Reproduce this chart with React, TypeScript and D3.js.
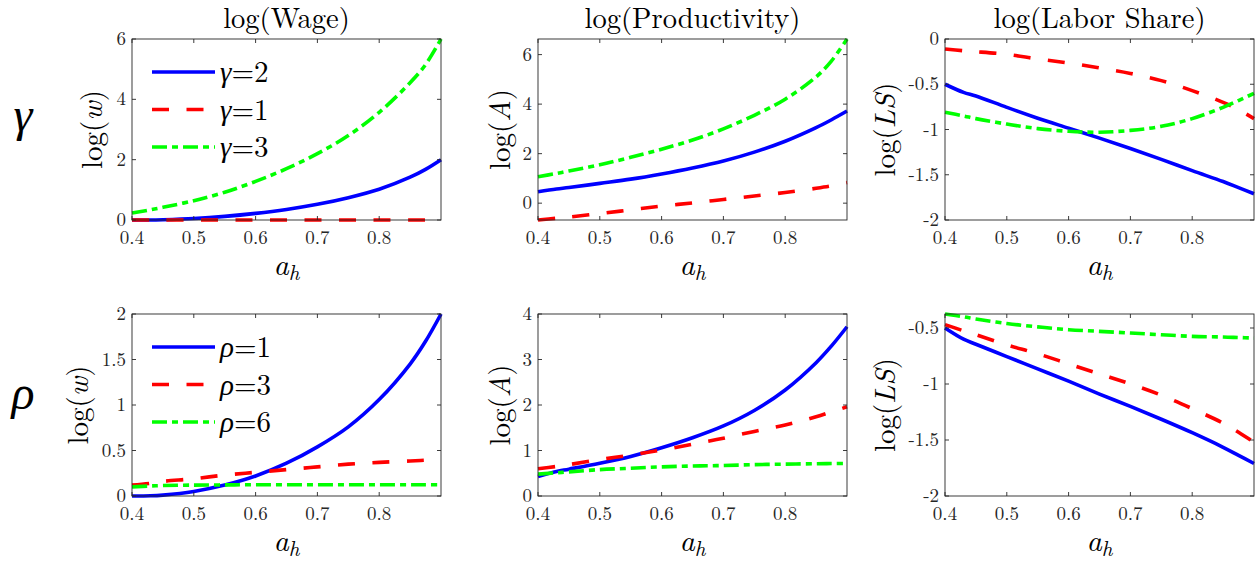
import React from 'react';
import * as d3 from 'd3';

// shared x grid (a_h)
const xs = [0.4, 0.43, 0.45, 0.5, 0.55, 0.6, 0.65, 0.7, 0.75, 0.8, 0.85, 0.875, 0.9];

// row 1: gamma
const wageG2 = [0, 0.0, 0.01, 0.05, 0.12, 0.22, 0.35, 0.52, 0.74, 1.02, 1.42, 1.68, 2.0];
const wageG1 = [0, 0, 0, 0, 0, 0, 0, 0, 0, 0, 0, 0, 0];
const wageG3 = [0.23, 0.34, 0.42, 0.64, 0.92, 1.28, 1.7, 2.2, 2.8, 3.57, 4.55, 5.15, 6.0];

const prodG2 = [0.46, 0.57, 0.63, 0.8, 0.97, 1.18, 1.42, 1.7, 2.06, 2.5, 3.05, 3.37, 3.72];
const prodG1 = [-0.68, -0.61, -0.56, -0.42, -0.27, -0.12, 0.01, 0.15, 0.29, 0.43, 0.6, 0.7, 0.83];
const prodG3 = [1.07, 1.2, 1.3, 1.55, 1.85, 2.18, 2.55, 3.0, 3.55, 4.2, 5.1, 5.75, 6.63];

const lsG2 = [-0.5, -0.59, -0.63, -0.755, -0.875, -0.985, -1.095, -1.21, -1.33, -1.455, -1.575, -1.642, -1.71];
const lsG1 = [-0.11, -0.13, -0.14, -0.17, -0.22, -0.265, -0.32, -0.38, -0.46, -0.57, -0.7, -0.78, -0.88];
const lsG3 = [-0.81, -0.85, -0.88, -0.94, -0.99, -1.02, -1.03, -1.01, -0.965, -0.88, -0.755, -0.68, -0.6];

// row 2: rho
const wageR1 = [0, 0.002, 0.01, 0.05, 0.12, 0.22, 0.36, 0.54, 0.76, 1.06, 1.45, 1.7, 2.0];
const wageR3 = [0.12, 0.14, 0.16, 0.19, 0.23, 0.26, 0.29, 0.32, 0.35, 0.37, 0.385, 0.393, 0.4];
const wageR6 = [0.1, 0.11, 0.115, 0.12, 0.122, 0.124, 0.124, 0.124, 0.124, 0.124, 0.124, 0.124, 0.124];

const prodR1 = [0.43, 0.54, 0.59, 0.72, 0.87, 1.06, 1.28, 1.54, 1.88, 2.33, 2.93, 3.3, 3.72];
const prodR3 = [0.6, 0.65, 0.69, 0.8, 0.9, 1.01, 1.14, 1.27, 1.42, 1.56, 1.74, 1.85, 1.96];
const prodR6 = [0.48, 0.51, 0.53, 0.58, 0.61, 0.64, 0.66, 0.67, 0.69, 0.7, 0.71, 0.713, 0.715];

const lsR1 = [-0.5, -0.6, -0.645, -0.755, -0.865, -0.975, -1.09, -1.2, -1.315, -1.435, -1.565, -1.637, -1.71];
const lsR3 = [-0.47, -0.525, -0.56, -0.65, -0.73, -0.82, -0.91, -1.0, -1.1, -1.22, -1.35, -1.43, -1.52];
const lsR6 = [-0.375, -0.4, -0.42, -0.46, -0.49, -0.515, -0.53, -0.545, -0.56, -0.575, -0.58, -0.585, -0.59];

const xTicks = [0.4, 0.5, 0.6, 0.7, 0.8];
const titles = ['log(Wage)', 'log(Productivity)', 'log(Labor Share)'];
const gammaLegend = ['2', '1', '3'];
const rhoLegend = ['1', '3', '6'];

const FONT = '"Latin Modern Roman", "Liberation Serif", serif';
const tf = { fontFamily: FONT };
const greek = { fontFamily: '"Liberation Serif", serif' };
const AX = '#262626';
const BLUE = '#0000ff', RED = '#ff0000', GREEN = '#00ff00';
const styles = [
  { color: BLUE, dash: null },
  { color: RED, dash: '17,17.5' },
  { color: GREEN, dash: '15,5,6,5' },
];

const colLeft = [132, 538, 945];
const plotW = 309;
const rowBox = [{ top: 39, bottom: 220 }, { top: 314, bottom: 496 }];

const panels = [
  { row: 0, col: 0, yDomain: [0, 6], yTicks: [0, 2, 4, 6], ylab: 'w', labOff: 39, series: [wageG2, wageG1, wageG3], legend: { sym: 'γ', vals: gammaLegend } },
  { row: 0, col: 1, yDomain: [-0.68, 6.63], yTicks: [0, 2, 4, 6], ylab: 'A', labOff: 37, series: [prodG2, prodG1, prodG3] },
  { row: 0, col: 2, yDomain: [-2, 0], yTicks: [-2, -1.5, -1, -0.5, 0], ylab: 'LS', labOff: 59, series: [lsG2, lsG1, lsG3] },
  { row: 1, col: 0, yDomain: [0, 2], yTicks: [0, 0.5, 1, 1.5, 2], ylab: 'w', labOff: 53, series: [wageR1, wageR3, wageR6], legend: { sym: 'ρ', vals: rhoLegend } },
  { row: 1, col: 1, yDomain: [0, 4], yTicks: [0, 1, 2, 3, 4], ylab: 'A', labOff: 37, series: [prodR1, prodR3, prodR6] },
  { row: 1, col: 2, yDomain: [-2, -0.375], yTicks: [-2, -1.5, -1, -0.5], ylab: 'LS', labOff: 59, series: [lsR1, lsR3, lsR6] },
];

function Panel({ p }: { p: any }) {
  const left = colLeft[p.col];
  const { top, bottom } = rowBox[p.row];
  const x = d3.scaleLinear().domain([0.4, 0.9]).range([left, left + plotW]);
  const y = d3.scaleLinear().domain(p.yDomain).range([bottom, top]);
  const line = d3.line<[number, number]>()
    .x(d => x(d[0]))
    .y(d => y(d[1]))
    .curve(d3.curveCatmullRom.alpha(0.5));
  const right = left + plotW;
  const tl = 4;
  const cx = left + plotW / 2;
  return (
    <g>
      {p.series.map((vals: number[], i: number) => (
        <path key={i} d={line(xs.map((v, j) => [v, vals[j]] as [number, number])) || ''}
          fill="none" stroke={styles[i].color} strokeWidth={3.6}
          strokeDasharray={styles[i].dash || undefined} />
      ))}
      <rect x={left} y={top} width={plotW} height={bottom - top} fill="none" stroke={AX} strokeWidth={0.9} />
      {xTicks.map(t => (
        <g key={'x' + t}>
          <line x1={x(t)} x2={x(t)} y1={bottom} y2={bottom - tl} stroke={AX} strokeWidth={0.9} />
          <line x1={x(t)} x2={x(t)} y1={top} y2={top + tl} stroke={AX} strokeWidth={0.9} />
          <text x={x(t)} y={bottom + 24} textAnchor="middle" fontSize={19} fill={AX} style={tf}>{String(t)}</text>
        </g>
      ))}
      {p.yTicks.map((t: number) => (
        <g key={'y' + t}>
          <line x1={left} x2={left + tl} y1={y(t)} y2={y(t)} stroke={AX} strokeWidth={0.9} />
          <line x1={right} x2={right - tl} y1={y(t)} y2={y(t)} stroke={AX} strokeWidth={0.9} />
          <text x={left - 6} y={y(t) + 6} textAnchor="end" fontSize={19} fill={AX} style={tf}>{String(t)}</text>
        </g>
      ))}
      <text transform={`translate(${left - p.labOff},${(top + bottom) / 2}) rotate(-90)`}
        textAnchor="middle" dy="0.3em" fontSize={29} fill="#000" style={tf}>
        log(<tspan fontStyle="italic">{p.ylab}</tspan>)
      </text>
      <text x={cx} y={bottom + 55} textAnchor="middle" fontSize={30} fontStyle="italic" fill="#000" style={tf}>
        a<tspan fontSize={21} dy={5}>h</tspan>
      </text>
      {p.row === 0 && (
        <text x={cx} y={28} textAnchor="middle" fontSize={28.5} fill="#000" style={tf}>{titles[p.col]}</text>
      )}
      {p.legend && p.legend.vals.map((v: string, i: number) => {
        const ly = top + 33 + i * 37.5;
        return (
          <g key={'l' + i}>
            <line x1={left + 20} x2={left + 83} y1={ly} y2={ly} stroke={styles[i].color}
              strokeWidth={3.6} strokeDasharray={styles[i].dash || undefined} />
            <text x={left + 88} y={ly + 10} fontSize={29} fill="#000" style={tf}>
              <tspan fontStyle="italic" style={greek}>{p.legend.sym}</tspan>=<tspan>{v}</tspan>
            </text>
          </g>
        );
      })}
    </g>
  );
}

export default function App() {
  return (
    <svg width={1260} height={562} style={{ position: 'absolute', left: 0, top: 0, background: '#fff' }}>
      <rect width={1260} height={562} fill="#fff" />
      {panels.map((p, i) => <Panel key={i} p={p} />)}
      <text x={23} y={131} textAnchor="middle" fontSize={48} fontStyle="italic" style={greek}>γ</text>
      <text x={23} y={409} textAnchor="middle" fontSize={48} fontStyle="italic" style={greek}>ρ</text>
    </svg>
  );
}
